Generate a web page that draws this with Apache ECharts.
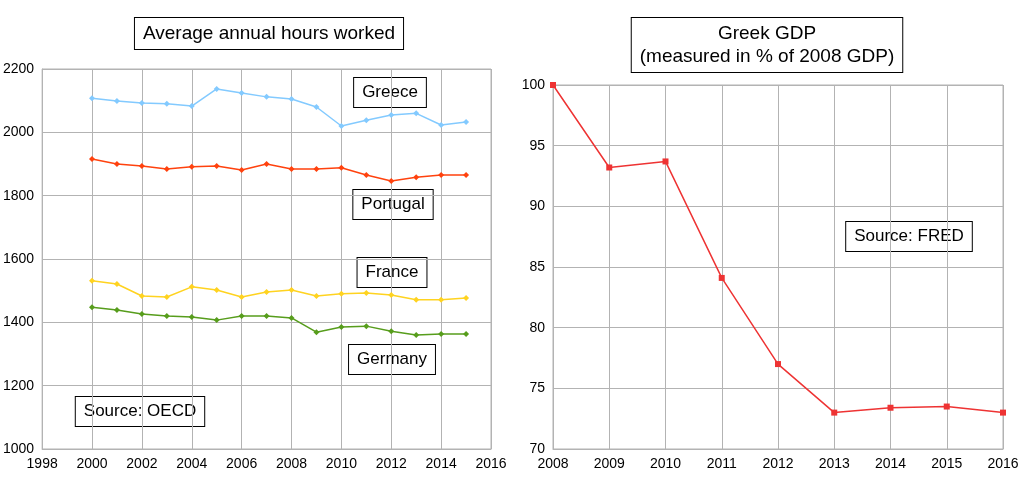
<!DOCTYPE html>
<html><head><meta charset="utf-8">
<script src="https://cdn.jsdelivr.net/npm/echarts@6/dist/echarts.min.js"></script>
<style>html,body{margin:0;background:#fff}#c{width:1024px;height:478px}</style>
</head><body><div id="c"></div>
<script>
const years = [2000,2001,2002,2003,2004,2005,2006,2007,2008,2009,2010,2011,2012,2013,2014,2015];
const greece   = [2108,2099,2093,2090,2083,2137,2124,2112,2105,2080,2020,2038,2055,2060,2023,2033];
const portugal = [1916,1900,1894,1884,1891,1894,1881,1900,1884,1884,1888,1865,1846,1858,1865,1865];
const france   = [1531,1521,1483,1480,1512,1502,1480,1496,1502,1483,1490,1493,1486,1471,1471,1477];
const germany  = [1448,1439,1426,1420,1417,1407,1420,1420,1414,1369,1385,1388,1372,1360,1363,1363];
const gdpYears = [2008,2009,2010,2011,2012,2013,2014,2015,2016];
const gdp      = [100,93.2,93.7,84.1,77,73,73.4,73.5,73];

const ff = 'Liberation Sans';
const pair = (xs, ys) => xs.map((x,i)=>[x,ys[i]]);
function axisCommon(){ return {axisLine:{show:true,lineStyle:{color:'#b3b3b3'}},axisTick:{show:false},
  axisLabel:{color:'#000',fontFamily:ff,fontSize:14,formatter:v=>String(v)},splitLine:{lineStyle:{color:'#b3b3b3'}}};}
function line(name, data, color, sym, xi){
  return {name, type:'line', data, xAxisIndex:xi, yAxisIndex:xi, color,
    symbol:sym, symbolSize:6, lineStyle:{width:1.5,color}, itemStyle:{color}};
}
function box(text, cx, y, fs){
  return {type:'text', x:cx, y:y, style:{text, font:fs+'px '+ff, fill:'#000',
    backgroundColor:'#fff', borderColor:'#000', borderWidth:1, padding:[4,8],
    align:'center', verticalAlign:'top', lineHeight:fs+4}};
}
const chart = echarts.init(document.getElementById('c'));
chart.setOption({
  animation:false,
  grid:[{left:42,right:533,top:69,bottom:29,show:true,borderColor:'#b3b3b3'},
        {left:553,right:21,top:85,bottom:29,show:true,borderColor:'#b3b3b3'}],
  xAxis:[Object.assign({type:'value',gridIndex:0,min:1998,max:2016,interval:2},axisCommon()),
         Object.assign({type:'value',gridIndex:1,min:2008,max:2016,interval:1},axisCommon())],
  yAxis:[Object.assign({type:'value',gridIndex:0,min:1000,max:2200,interval:200},axisCommon()),
         Object.assign({type:'value',gridIndex:1,min:70,max:100,interval:5},axisCommon())],
  series:[
    line('Greece',pair(years,greece),'#83caff','diamond',0),
    line('Portugal',pair(years,portugal),'#ff420e','diamond',0),
    line('France',pair(years,france),'#ffd320','diamond',0),
    line('Germany',pair(years,germany),'#579d1c','diamond',0),
    line('Greek GDP',pair(gdpYears,gdp),'#ee3333','rect',1)
  ],
  graphic:[
    box('Average annual hours worked',269,18,19),
    box('Greek GDP\n(measured in % of 2008 GDP)',767,18,19),
    box('Greece',390,78,17),
    box('Portugal',393,190,17),
    box('France',392,258,17),
    box('Germany',392,345,17),
    box('Source: OECD',140,397,17),
    box('Source: FRED',909,222,17)
  ]
});
</script></body></html>
